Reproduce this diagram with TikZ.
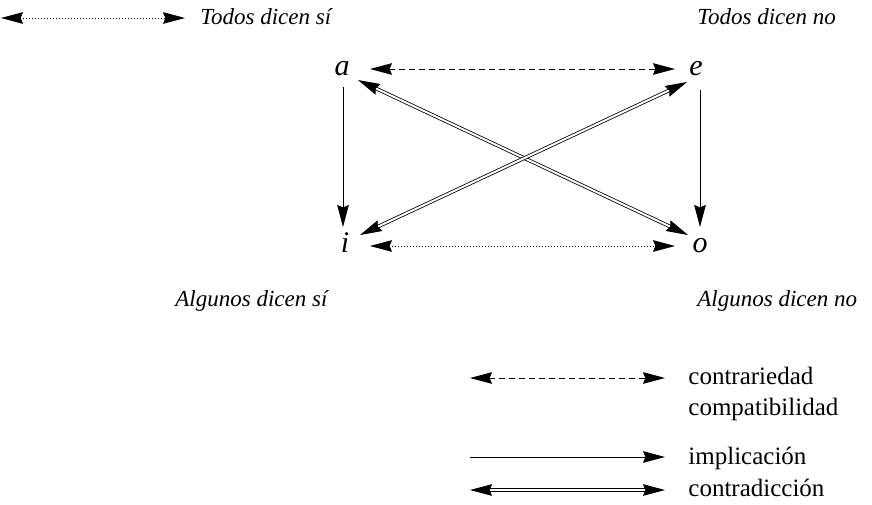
\documentclass[tikz,border=0pt]{standalone}
\usepackage{fontspec}
\setmainfont{Liberation Serif}
\usetikzlibrary{arrows.meta,calc}
\begin{document}
\begin{tikzpicture}[x=0.5pt,y=-0.5pt,
  hd/.tip={Stealth[length=11pt,width=5.8pt,inset=1.2pt]},
  tip/.style={-hd},
  both/.style={hd-hd},
  ln/.style={line width=0.5pt},
  contrar/.style={both, ln, dash pattern=on 3pt off 2pt},
  compat/.style={both, ln, dash pattern=on 0.5pt off 1pt},
  implic/.style={tip, ln},
  contrad/.style={both, double, double distance=1pt, line width=0.4pt},
  letter/.style={font=\fontsize{15}{17}\selectfont\itshape, inner sep=0pt, anchor=base},
  lab/.style={font=\fontsize{11.5}{14}\selectfont\itshape, inner sep=0pt, anchor=base west},
  leg/.style={font=\fontsize{12.5}{15}\selectfont, inner sep=0pt, anchor=base west}]
\useasboundingbox (0,0) rectangle (872,504);

% corner letters
\node[letter] (a) at (342,75) {a};
\node[letter] (e) at (696,75) {e};
\node[letter] (i) at (345,252) {i};
\node[letter] (o) at (700,252) {o};

% labels
\node[lab] (ts) at (200,24) {Todos dicen sí};
\node[lab] (tn) at (697,24) {Todos dicen no};
\node[lab] (as) at (175,306) {Algunos dicen sí};
\node[lab] (an) at (697,306) {Algunos dicen no};

% square connectors
\draw[contrar] ($(a.base)+(28,-6)$) -- ($(e.base)+(-21,-6)$);
\draw[compat] ($(i.base)+(25,-6)$) -- ($(o.base)+(-25,-6)$);
\draw[implic] ($(a.base)+(1,12)$) -- ($(i.base)+(-2,-25)$);
\draw[implic] ($(e.base)+(4,15)$) -- ($(o.base)+(0,-25)$);
\draw[contrad] ($(a.base)+(16,5)$) -- ($(o.base)+(-12,-17)$);
\draw[contrad] ($(e.base)+(-9,7)$) -- ($(i.base)+(15,-17)$);

% stray compatibility arrow at top left
\coordinate (c1) at (1,18);
\coordinate (c2) at (185,18);
\draw[compat] (c1) -- (c2);

% legend
\node[leg] (l1) at (688,384) {contrariedad};
\node[leg] (l2) at (688,415) {compatibilidad};
\node[leg] (l3) at (688,464) {implicación};
\node[leg] (l4) at (688,496) {contradicción};
\coordinate (s1) at (470,378);
\coordinate (e1) at (665,378);
\coordinate (s3) at (470,457);
\coordinate (e3) at (665,457);
\coordinate (s4) at (470,490);
\coordinate (e4) at (665,490);
\draw[contrar] (s1) -- (e1);
\draw[implic] (s3) -- (e3);
\draw[contrad] (s4) -- (e4);
\end{tikzpicture}
\end{document}
